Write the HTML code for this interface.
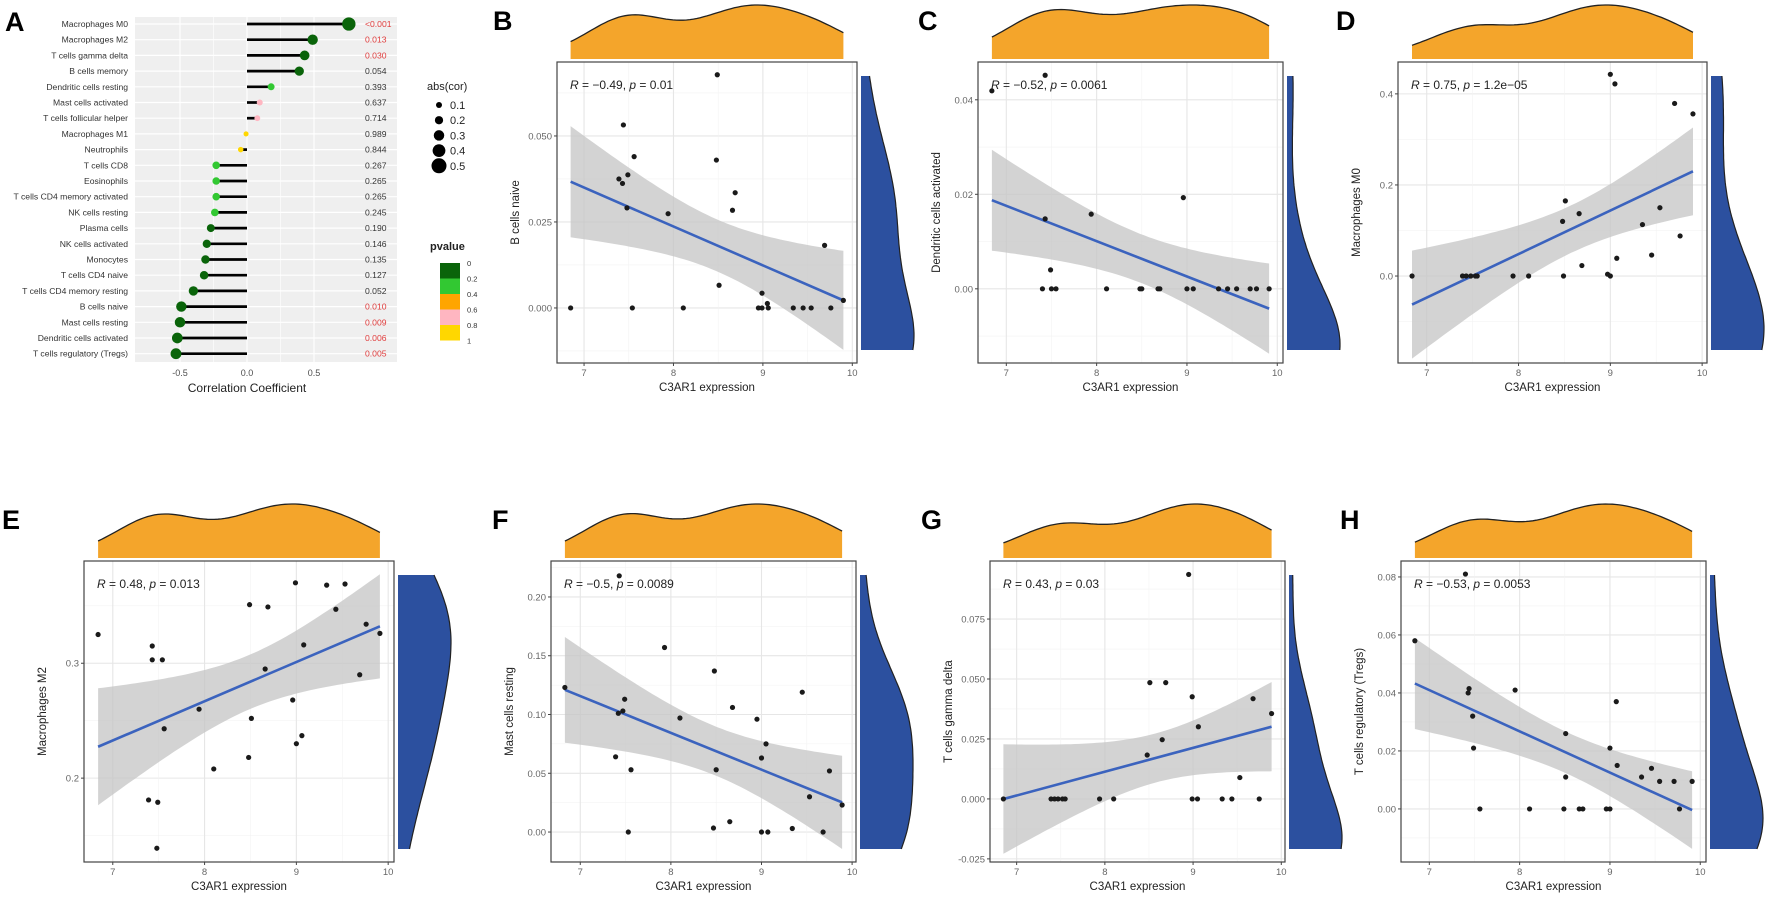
<!DOCTYPE html>
<html><head><meta charset="utf-8"><title>C3AR1 immune correlation figure</title>
<style>
html,body{margin:0;padding:0;background:#fff;}
svg{display:block;font-family:"Liberation Sans",Arial,sans-serif;}
</style></head>
<body>
<svg id="fig" width="1772" height="899" viewBox="0 0 1772 899" xmlns="http://www.w3.org/2000/svg"></svg>
<script>
// ---------- Panel A data ----------
const cellTypes = ["Macrophages M0","Macrophages M2","T cells gamma delta","B cells memory","Dendritic cells resting","Mast cells activated","T cells follicular helper","Macrophages M1","Neutrophils","T cells CD8","Eosinophils","T cells CD4 memory activated","NK cells resting","Plasma cells","NK cells activated","Monocytes","T cells CD4 naive","T cells CD4 memory resting","B cells naive","Mast cells resting","Dendritic cells activated","T cells regulatory (Tregs)"];
const corValues = [0.76,0.49,0.43,0.39,0.18,0.095,0.077,-0.007,-0.047,-0.23,-0.23,-0.23,-0.24,-0.27,-0.30,-0.31,-0.32,-0.40,-0.49,-0.50,-0.52,-0.53];
const pValues = [0.0005,0.013,0.030,0.054,0.393,0.637,0.714,0.989,0.844,0.267,0.265,0.265,0.245,0.190,0.146,0.135,0.127,0.052,0.010,0.009,0.006,0.005];
const pLabels = ["<0.001","0.013","0.030","0.054","0.393","0.637","0.714","0.989","0.844","0.267","0.265","0.265","0.245","0.190","0.146","0.135","0.127","0.052","0.010","0.009","0.006","0.005"];
const corTicks = [-0.5,0,0.5];
const corTickLabels = ["-0.5","0.0","0.5"];
const sizeLegendValues = [0.1,0.2,0.3,0.4,0.5];
const pLegendLabels = ["0","0.2","0.4","0.6","0.8","1"];

// ---------- Scatter data ----------
const bX=[8.49,7.44,7.56,8.48,7.49,7.39,7.43,8.69,8.66,7.48,7.94,9.69,8.51,8.99,9.05,9.90,6.85,7.54,8.11,8.95,8.99,9.06,9.34,9.45,9.54,9.76];
const bY=[0.0678,0.0532,0.0440,0.0430,0.0387,0.0375,0.0362,0.0335,0.0284,0.0291,0.0274,0.0182,0.0066,0.0043,0.0013,0.0022,0,0,0,0,0,0,0,0,0,0];
const cX=[6.84,7.43,7.43,7.94,8.96,7.49,7.40,7.50,7.55,8.11,8.48,8.50,8.68,8.70,9.00,9.07,9.35,9.45,9.55,9.70,9.77,9.91];
const cY=[0.0419,0.0452,0.0148,0.0158,0.0193,0.0040,0,0,0,0,0,0,0,0,0,0,0,0,0,0,0,0];
const dX=[9.00,9.05,9.70,9.90,8.51,8.66,8.48,9.54,9.35,9.76,8.69,9.07,9.45,8.97,6.84,7.39,7.43,7.48,7.53,7.55,7.94,8.11,8.49,9.00];
const dY=[0.443,0.422,0.379,0.356,0.165,0.137,0.120,0.150,0.113,0.088,0.023,0.039,0.046,0.004,0,0,0,0,0,0,0,0,0,0];
const eX=[6.84,7.43,7.43,7.54,7.39,7.49,7.48,7.94,7.56,8.10,8.49,8.69,8.66,8.51,8.48,8.99,9.33,9.53,9.43,9.76,9.91,9.08,9.69,8.96,9.06,9.00];
const eY=[0.325,0.315,0.303,0.303,0.181,0.179,0.139,0.260,0.243,0.208,0.351,0.349,0.295,0.252,0.218,0.370,0.368,0.369,0.347,0.334,0.326,0.316,0.290,0.268,0.237,0.230];
const fX=[7.43,6.83,7.49,7.47,7.42,7.93,8.10,8.48,8.68,8.95,9.05,9.00,9.45,7.39,7.56,8.50,9.75,9.53,9.89,7.53,8.47,8.65,9.00,9.07,9.34,9.68];
const fY=[0.218,0.123,0.113,0.103,0.101,0.157,0.097,0.137,0.106,0.096,0.075,0.063,0.119,0.064,0.053,0.053,0.052,0.030,0.023,0,0.0034,0.0088,0,0,0.003,0];
const gX=[8.95,8.51,8.69,8.99,9.68,9.89,9.06,8.65,8.48,9.53,6.85,7.39,7.43,7.47,7.52,7.55,7.94,8.10,8.99,9.05,9.33,9.44,9.75];
const gY=[0.0936,0.0485,0.0485,0.0426,0.0418,0.0356,0.0301,0.0247,0.0183,0.0089,0,0,0,0,0,0,0,0,0,0,0,0,0];
const hX=[6.84,7.40,7.44,7.43,7.48,7.49,7.56,7.95,8.11,8.49,8.51,8.51,8.66,8.70,8.96,9.00,9.00,9.07,9.08,9.35,9.46,9.55,9.71,9.77,9.91];
const hY=[0.058,0.081,0.0415,0.040,0.032,0.021,0,0.041,0,0,0.026,0.011,0,0,0,0,0.021,0.037,0.015,0.011,0.014,0.0095,0.0095,0,0.0095];
const xTicks=[7,8,9,10];
const xTickLabels=["7","8","9","10"];
const bTicks=[0,0.025,0.05], bTickLabels=["0.000","0.025","0.050"];
const cTicks=[0,0.02,0.04], cTickLabels=["0.00","0.02","0.04"];
const dTicks=[0,0.2,0.4], dTickLabels=["0.0","0.2","0.4"];
const eTicks=[0.2,0.3], eTickLabels=["0.2","0.3"];
const fTicks=[0,0.05,0.1,0.15,0.2], fTickLabels=["0.00","0.05","0.10","0.15","0.20"];
const gTicks=[-0.025,0,0.025,0.05,0.075], gTickLabels=["-0.025","0.000","0.025","0.050","0.075"];
const hTicks=[0,0.02,0.04,0.06,0.08], hTickLabels=["0.00","0.02","0.04","0.06","0.08"];
const statR=["−0.49","−0.52","0.75","0.48","−0.5","0.43","−0.53"];
const statP=["0.01","0.0061","1.2e−05","0.013","0.0089","0.03","0.0053"];

const NS="http://www.w3.org/2000/svg";
const svg=document.getElementById('fig');
function mk(tag,attrs,parent){const e=document.createElementNS(NS,tag);for(const k in attrs)e.setAttribute(k,attrs[k]);(parent||svg).appendChild(e);return e;}

// ---------- Panel A ----------
(function(){
  const g=mk('g',{});
  
  
  const L=135,R=397,T=17,B=362;
  const xA=v=>247+v*134;
  const rowY=i=>24+i*15.7;
  const bg=mk('rect',{x:L,y:T,width:R-L,height:B-T,fill:'#efefef'},g);
  
  
  corTicks.forEach(t=>{mk('line',{x1:xA(t),x2:xA(t),y1:T,y2:B,stroke:'#fff','stroke-width':1.2},g);});
  [-0.25,0.25].forEach(t=>{mk('line',{x1:xA(t),x2:xA(t),y1:T,y2:B,stroke:'#fff','stroke-width':0.6},g);});
  cellTypes.forEach((n,i)=>{mk('line',{x1:L,x2:R,y1:rowY(i),y2:rowY(i),stroke:'#fff','stroke-width':1.2},g);});
  const lab=mk('text',{x:5,y:31,'font-size':27,'font-weight':'bold',fill:'#000'},g);lab.textContent='A';
  
  
  function pColor(p){return p<0.2?'#0a640a':p<0.4?'#32c832':p<0.6?'#ffa500':p<0.8?'#ffb6c1':'#ffd700';}
  cellTypes.forEach((n,i)=>{
    const y=rowY(i);
    const t=mk('text',{x:128,y:y+3,'text-anchor':'end','font-size':8.6,fill:'#333'},g);t.textContent=n;
    
    
    const ln=mk('line',{x1:xA(0),x2:xA(corValues[i]),y1:y,y2:y,stroke:'#000','stroke-width':2.7},g);
    
    
    const d=5+11*Math.abs(corValues[i]);
    const c=mk('circle',{cx:xA(corValues[i]),cy:y,r:d/2,fill:pColor(pValues[i])},g);
    
    
    const pt=mk('text',{x:365,y:y+3,'font-size':8.6,fill:pValues[i]<0.05?'#e03c3c':'#333'},g);pt.textContent=pLabels[i];
    
    
  });
  corTicks.forEach((t,i)=>{const tt=mk('text',{x:xA(t),y:376,'text-anchor':'middle','font-size':9,fill:'#4d4d4d'},g);tt.textContent=corTickLabels[i];
    
    });
  const xt=mk('text',{x:247,y:392,'text-anchor':'middle','font-size':12,fill:'#222'},g);xt.textContent='Correlation Coefficient';
  
  
  const lt=mk('text',{x:427,y:90,'font-size':11,fill:'#222'},g);lt.textContent='abs(cor)';
  
  
  sizeLegendValues.forEach((v,i)=>{const y=105+i*15.2;
    const c=mk('circle',{cx:439,cy:y,r:(3.75+22.5*v)/2,fill:'#000'},g);
    
    
    const t=mk('text',{x:450,y:y+4,'font-size':11,fill:'#222'},g);t.textContent=String(v);
    
    });
  const pt=mk('text',{x:430,y:250,'font-size':11,'font-weight':'bold',fill:'#222'},g);pt.textContent='pvalue';
  
  
  const cols=['#0a640a','#32c832','#ffa500','#ffb6c1','#ffd700'];
  cols.forEach((c,i)=>{const r=mk('rect',{x:440,y:263+i*15.5,width:20,height:15.5,fill:c},g);
    
    });
  pLegendLabels.forEach((s,i)=>{const t=mk('text',{x:467,y:266+i*15.5,'font-size':7.5,fill:'#333'},g);t.textContent=s;
    
    });
})();

// ---------- Scatter helpers ----------
function mean(a){return a.reduce((s,v)=>s+v,0)/a.length;}
function sd(a){const m=mean(a);return Math.sqrt(a.reduce((s,v)=>s+(v-m)*(v-m),0)/(a.length-1));}
function quant(a,q){const s=[...a].sort((x,y)=>x-y);const h=(s.length-1)*q;const lo=Math.floor(h);return s[lo]+(h-lo)*((s[lo+1]??s[lo])-s[lo]);}
function bw(a){const s=sd(a);const iqr=(quant(a,0.75)-quant(a,0.25))/1.34;let m=iqr>0?Math.min(s,iqr):s;return 0.9*m*Math.pow(a.length,-0.2);}
function bwY(a){return Math.max(bw(a),1.3*sd(a)*Math.pow(a.length,-0.2));}
function kde(a,x,h){let s=0;for(const v of a){const z=(x-v)/h;s+=Math.exp(-0.5*z*z);}return s/(a.length*h*Math.sqrt(2*Math.PI));}

const panels=[
 {id:'b',letter:'B',X:bX,Y:bY,L:557,R:857,T:62,B:363,yd:[-0.016,0.0715],ticks:bTicks,tl:bTickLabels,ylab:'B cells naive',lx:493},
 {id:'c',letter:'C',X:cX,Y:cY,L:978,R:1283,T:62,B:363,yd:[-0.0157,0.048],ticks:cTicks,tl:cTickLabels,ylab:'Dendritic cells activated',lx:918},
 {id:'d',letter:'D',X:dX,Y:dY,L:1398,R:1707,T:62,B:363,yd:[-0.191,0.470],ticks:dTicks,tl:dTickLabels,ylab:'Macrophages M0',lx:1336},
 {id:'e',letter:'E',X:eX,Y:eY,L:84,R:394,T:561,B:862,yd:[0.127,0.389],ticks:eTicks,tl:eTickLabels,ylab:'Macrophages M2',lx:2},
 {id:'f',letter:'F',X:fX,Y:fY,L:551,R:856,T:561,B:862,yd:[-0.0255,0.2306],ticks:fTicks,tl:fTickLabels,ylab:'Mast cells resting',lx:492},
 {id:'g',letter:'G',X:gX,Y:gY,L:990,R:1285,T:561,B:862,yd:[-0.0263,0.0992],ticks:gTicks,tl:gTickLabels,ylab:'T cells gamma delta',lx:921},
 {id:'h',letter:'H',X:hX,Y:hY,L:1401,R:1706,T:561,B:862,yd:[-0.0183,0.0855],ticks:hTicks,tl:hTickLabels,ylab:'T cells regulatory (Tregs)',lx:1340}
];

panels.forEach((P,pi)=>{
  const g=mk('g',{});
  
  
  const xmin=Math.min(...P.X),xmax=Math.max(...P.X),xr=xmax-xmin;
  const xd=[xmin-0.05*xr,xmax+0.05*xr];
  const xs=v=>P.L+(v-xd[0])/(xd[1]-xd[0])*(P.R-P.L);
  const ys=v=>P.B-(v-P.yd[0])/(P.yd[1]-P.yd[0])*(P.B-P.T);
  const lt=mk('text',{x:P.lx,y:P.T-32,'font-size':27,'font-weight':'bold',fill:'#000'},g);lt.textContent=P.letter;
  
  
  const step=P.ticks.length>1?P.ticks[1]-P.ticks[0]:0.1;
  for(let v=P.ticks[0]-step*3;v<=P.yd[1];v+=step/2){if(v<P.yd[0])continue;
    const major=P.ticks.some(t=>Math.abs(t-v)<step*0.01);
    mk('line',{x1:P.L,x2:P.R,y1:ys(v),y2:ys(v),stroke:major?'#e6e6e6':'#f3f3f3','stroke-width':major?1.1:0.6},g);}
  for(let v=6.5;v<=10.5;v+=0.5){if(v<xd[0]||v>xd[1])continue;
    const major=Math.abs(v-Math.round(v))<0.01;
    mk('line',{x1:xs(v),x2:xs(v),y1:P.T,y2:P.B,stroke:major?'#e6e6e6':'#f3f3f3','stroke-width':major?1.1:0.6},g);}
  const n=P.X.length,mx=mean(P.X),my=mean(P.Y);
  let sxx=0,sxy=0;P.X.forEach((x,i)=>{sxx+=(x-mx)**2;sxy+=(x-mx)*(P.Y[i]-my);});
  const b1=sxy/sxx,b0=my-b1*mx;
  let sse=0;P.X.forEach((x,i)=>{sse+=(P.Y[i]-b0-b1*x)**2;});
  const s=Math.sqrt(sse/(n-2)),tq=2.07;
  const up=[],lo=[];
  for(let k=0;k<=60;k++){const x=xmin+xr*k/60;const f=b0+b1*x;const se=s*Math.sqrt(1/n+(x-mx)**2/sxx);
    up.push(xs(x).toFixed(1)+','+ys(f+tq*se).toFixed(1));lo.unshift(xs(x).toFixed(1)+','+ys(f-tq*se).toFixed(1));}
  const band=mk('polygon',{points:up.concat(lo).join(' '),fill:'#c4c4c4','fill-opacity':0.75},g);
  
  
  const fit=mk('line',{x1:xs(xmin),y1:ys(b0+b1*xmin),x2:xs(xmax),y2:ys(b0+b1*xmax),stroke:'#3b63be','stroke-width':2.6},g);
  
  
  P.X.forEach((x,i)=>{const c=mk('circle',{cx:xs(x),cy:ys(P.Y[i]),r:2.6,fill:'#1a1a1a'},g);
    
    });
  mk('rect',{x:P.L,y:P.T,width:P.R-P.L,height:P.B-P.T,fill:'none',stroke:'#444','stroke-width':1.2},g);
  P.ticks.forEach((t,i)=>{mk('line',{x1:P.L-3,x2:P.L,y1:ys(t),y2:ys(t),stroke:'#444'},g);
    const tx=mk('text',{x:P.L-5,y:ys(t)+3.5,'text-anchor':'end','font-size':9.5,fill:'#666'},g);tx.textContent=P.tl[i];
    
    });
  xTicks.forEach((t,i)=>{mk('line',{x1:xs(t),x2:xs(t),y1:P.B,y2:P.B+3,stroke:'#444'},g);
    const tx=mk('text',{x:xs(t),y:P.B+13,'text-anchor':'middle','font-size':9.5,fill:'#666'},g);tx.textContent=xTickLabels[i];
    
    });
  const xt=mk('text',{x:(P.L+P.R)/2,y:P.B+28,'text-anchor':'middle','font-size':11.5,fill:'#222'},g);xt.textContent='C3AR1 expression';
  
  
  const ycx=P.L-38,ycy=(P.T+P.B)/2;
  const yt=mk('text',{x:ycx,y:ycy,'text-anchor':'middle','font-size':11.5,fill:'#222',transform:`rotate(-90 ${ycx} ${ycy})`},g);yt.textContent=P.ylab;
  
  
  const st=mk('text',{x:P.L+13,y:P.T+27,'font-size':12,fill:'#222'},g);
  
  
  st.innerHTML=`<tspan font-style="italic">R</tspan> = ${statR[pi]}, <tspan font-style="italic">p</tspan> = ${statP[pi]}`;
  const hx=bw(P.X);const dens=[];let dmax=0;
  for(let k=0;k<=80;k++){const x=xmin+xr*k/80;const d=kde(P.X,x,hx);dens.push([x,d]);if(d>dmax)dmax=d;}
  const base=P.T-3,topY=P.T-57;
  const tpts=dens.map(([x,d])=>xs(x).toFixed(1)+','+(base-(d/dmax)*(base-topY)).toFixed(1));
  const to=mk('polygon',{points:`${xs(xmin).toFixed(1)},${base} `+tpts.join(' ')+` ${xs(xmax).toFixed(1)},${base}`,fill:'#f4a52b'},g);
  
  
  mk('polyline',{points:tpts.join(' '),fill:'none',stroke:'#222','stroke-width':1.3},g);
  const ymin=Math.min(...P.Y),ymax=Math.max(...P.Y),yr=ymax-ymin;
  const hy=bwY(P.Y);const dy=[];let dym=0;
  for(let k=0;k<=80;k++){const y=ymin+yr*k/80;const d=kde(P.Y,y,hy);dy.push([y,d]);if(d>dym)dym=d;}
  const bx=P.R+4,by0=P.B-13,by1=P.T+14;
  const yv=y=>by0-(y-ymin)/yr*(by0-by1);
  const rpts=dy.map(([y,d])=>(bx+(d/dym)*53).toFixed(1)+','+yv(y).toFixed(1));
  const bl=mk('polygon',{points:`${bx},${by0} `+rpts.join(' ')+` ${bx},${by1}`,fill:'#2c509f'},g);
  
  
  mk('polyline',{points:rpts.join(' '),fill:'none',stroke:'#222','stroke-width':1.2},g);
});
</script>
</body></html>
